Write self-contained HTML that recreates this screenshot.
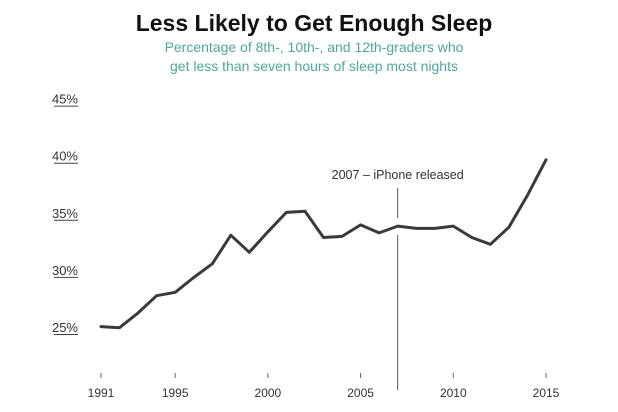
<!DOCTYPE html>
<html><head><meta charset="utf-8"><style>
html,body{margin:0;padding:0;background:#fff;}
svg{display:block;font-family:"Liberation Sans",sans-serif;}
</style></head><body>
<svg width="618" height="412" viewBox="0 0 618 412">
<text x="314" y="31" text-anchor="middle" font-size="23" font-weight="bold" fill="#111">Less Likely to Get Enough Sleep</text>
<text x="314" y="52" text-anchor="middle" font-size="14" fill="#4fa69f">Percentage of 8th-, 10th-, and 12th-graders who</text>
<text x="314" y="71" text-anchor="middle" font-size="14" fill="#4fa69f">get less than seven hours of sleep most nights</text>
<g id="yaxis"></g><g id="xaxis"></g><g id="annot"></g><g id="series"></g>
</svg>
<script>
const years=[1991,1992,1993,1994,1995,1996,1997,1998,1999,2000,2001,2002,2003,2004,2005,2006,2007,2008,2009,2010,2011,2012,2013,2014,2015];
const values=[25.3,25.2,26.5,28.0,28.3,29.6,30.8,33.3,31.8,33.6,35.3,35.4,33.1,33.2,34.2,33.5,34.1,33.9,33.9,34.1,33.1,32.5,34.0,36.8,39.9];
const yTicks=[25,30,35,40,45];
const xTicks=[1991,1995,2000,2005,2010,2015];
const eventYear=2007;
const eventLabel="2007 – iPhone released";
const NS="http://www.w3.org/2000/svg";
function X(yr){return 101+(yr-1991)*(546-101)/24;}
function Y(v){return 330-(v-25)*11.42;}
function mk(tag,attrs,parent){const e=document.createElementNS(NS,tag);for(const k in attrs)e.setAttribute(k,attrs[k]);parent.appendChild(e);return e;}
const ya=document.getElementById('yaxis');
yTicks.forEach(t=>{
 const tx=mk('text',{x:78,y:Y(t)+2,'text-anchor':'end','font-size':'13',fill:'#333'},ya);
 tx.textContent=t+'%';
 
 
 const u=mk('line',{x1:54,x2:78,y1:Y(t)+4.5,y2:Y(t)+4.5,stroke:'#444','stroke-width':1},ya);
 
 
});
const xa=document.getElementById('xaxis');
xTicks.forEach(t=>{
 const tk=mk('line',{x1:X(t),x2:X(t),y1:373,y2:378,stroke:'#666','stroke-width':1},xa);
 
 
 const tx=mk('text',{x:X(t),y:397,'text-anchor':'middle','font-size':'12',fill:'#333'},xa);
 tx.textContent=t;
 
 
});
const an=document.getElementById('annot');
const ex=X(eventYear);
const l1=mk('line',{x1:ex,x2:ex,y1:188,y2:218,stroke:'#555','stroke-width':1},an);


const l2=mk('line',{x1:ex,x2:ex,y1:235,y2:390,stroke:'#555','stroke-width':1},an);


const el=mk('text',{x:ex,y:179,'text-anchor':'middle','font-size':'12.5',fill:'#333'},an);
el.textContent=eventLabel;


const sr=document.getElementById('series');
const pts=years.map((y,i)=>X(y).toFixed(1)+','+Y(values[i]).toFixed(1)).join(' ');
const pl=mk('polyline',{points:pts,fill:'none',stroke:'#3a3a3a','stroke-width':3,'stroke-linejoin':'round','stroke-linecap':'round'},sr);


</script>
</body></html>
